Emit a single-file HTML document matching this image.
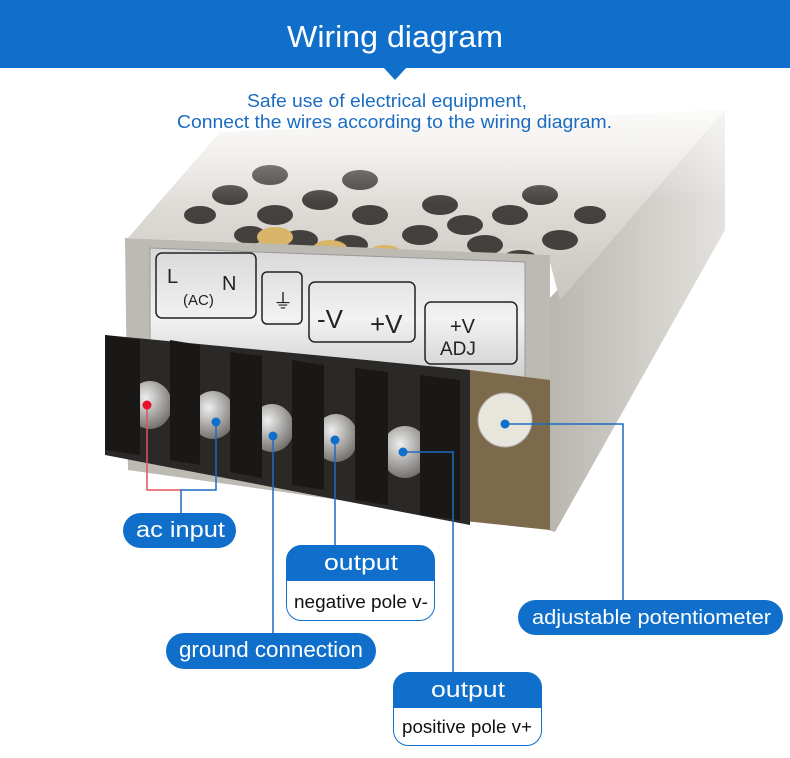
<!DOCTYPE html>
<html><head><meta charset="utf-8"><style>
html,body{margin:0;padding:0;background:#fff;}
body{width:790px;height:758px;overflow:hidden;position:relative;font-family:"Liberation Sans",sans-serif;}
</style></head><body>
<svg width="790" height="758" viewBox="0 0 790 758" xmlns="http://www.w3.org/2000/svg" style="position:absolute;left:0;top:0">
<defs>
<linearGradient id="fade" x1="0" y1="0" x2="0" y2="1">
<stop offset="0" stop-color="#fff" stop-opacity="1"/>
<stop offset="0.55" stop-color="#fff" stop-opacity="0"/>
</linearGradient>
<linearGradient id="top" x1="0" y1="0" x2="0" y2="1">
<stop offset="0" stop-color="#f4f2ee"/><stop offset="1" stop-color="#c9c6c0"/>
</linearGradient>
<linearGradient id="side" x1="0" y1="0" x2="1" y2="0">
<stop offset="0" stop-color="#b9b6b0"/><stop offset="1" stop-color="#e4e2de"/>
</linearGradient>
<linearGradient id="lab" x1="0" y1="0" x2="0" y2="1">
<stop offset="0" stop-color="#d8d8d8"/><stop offset="0.5" stop-color="#f2f2f2"/><stop offset="1" stop-color="#c8c8c8"/>
</linearGradient>
<radialGradient id="scr" cx="0.4" cy="0.35" r="0.7">
<stop offset="0" stop-color="#eee"/><stop offset="1" stop-color="#6d6a66"/>
</radialGradient>
</defs>
<polygon points="548,300 725,110 725,230 555,532 548,530" fill="url(#side)"/>
<polygon points="128,238 220,132 725,110 560,300 548,255" fill="url(#top)"/>
<g fill="#2a2724" opacity="0.85">
<ellipse cx="230" cy="195" rx="18" ry="10"/><ellipse cx="275" cy="215" rx="18" ry="10"/><ellipse cx="320" cy="200" rx="18" ry="10"/>
<ellipse cx="370" cy="215" rx="18" ry="10"/><ellipse cx="420" cy="235" rx="18" ry="10"/><ellipse cx="465" cy="225" rx="18" ry="10"/>
<ellipse cx="510" cy="215" rx="18" ry="10"/><ellipse cx="440" cy="205" rx="18" ry="10"/><ellipse cx="485" cy="245" rx="18" ry="10"/>
<ellipse cx="410" cy="262" rx="18" ry="10"/><ellipse cx="460" cy="272" rx="18" ry="10"/><ellipse cx="520" cy="260" rx="18" ry="10"/>
<ellipse cx="560" cy="240" rx="18" ry="10"/><ellipse cx="540" cy="195" rx="18" ry="10"/><ellipse cx="360" cy="180" rx="18" ry="10"/>
<ellipse cx="270" cy="175" rx="18" ry="10"/><ellipse cx="300" cy="240" rx="18" ry="10"/><ellipse cx="350" cy="245" rx="18" ry="10"/>
<ellipse cx="590" cy="215" rx="16" ry="9"/><ellipse cx="200" cy="215" rx="16" ry="9"/><ellipse cx="250" cy="235" rx="16" ry="9"/>
</g>
<g fill="#d9b56a"><ellipse cx="275" cy="237" rx="18" ry="10"/><ellipse cx="330" cy="250" rx="18" ry="10"/><ellipse cx="385" cy="255" rx="18" ry="10"/></g>
<polygon points="125,238 128,470 550,530 550,255" fill="#bdbab4"/>
<polygon points="150,248 525,262 525,390 150,370" fill="url(#lab)" stroke="#999" stroke-width="1"/>
<g fill="none" stroke="#222" stroke-width="1.5">
<rect x="156" y="253" width="100" height="65" rx="6"/><rect x="262" y="272" width="40" height="52" rx="5"/>
<rect x="309" y="282" width="106" height="60" rx="6"/><rect x="425" y="302" width="92" height="62" rx="6"/>
</g>
<g fill="#222" font-family="Liberation Sans,sans-serif">
<text x="167" y="283" font-size="20">L</text><text x="222" y="290" font-size="20">N</text>
<text x="183" y="305" font-size="15">(AC)</text><text x="273" y="308" font-size="20">⏚</text>
<text x="317" y="328" font-size="26">-V</text><text x="370" y="333" font-size="26">+V</text>
<text x="450" y="333" font-size="20">+V</text><text x="440" y="355" font-size="19">ADJ</text>
</g>
<polygon points="470,370 550,380 550,530 455,520" fill="#7d6a4c"/>
<circle cx="505" cy="420" r="27" fill="#e8e6dc" stroke="#aaa"/>
<polygon points="105,335 470,370 470,525 105,455" fill="#2b2927"/>
<g fill="url(#scr)">
<ellipse cx="150" cy="405" rx="22" ry="24"/><ellipse cx="213" cy="415" rx="22" ry="24"/>
<ellipse cx="272" cy="428" rx="22" ry="24"/><ellipse cx="336" cy="438" rx="22" ry="24"/><ellipse cx="405" cy="452" rx="24" ry="26"/>
</g>
<g fill="#1a1816">
<polygon points="105,335 140,340 140,455 105,450"/><polygon points="170,340 200,345 200,465 170,460"/>
<polygon points="230,352 262,356 262,478 230,472"/><polygon points="292,360 324,365 324,490 292,485"/>
<polygon points="355,368 388,372 388,505 355,500"/><polygon points="420,375 460,380 460,520 420,515"/>
</g>
<rect x="0" y="60" width="790" height="260" fill="url(#fade)"/>
<rect x="0" y="0" width="790" height="68" fill="#0f6fcb"/>
<polygon points="383,67 407,67 395,80" fill="#0f6fcb"/>
<text x="287" y="47" textLength="216" lengthAdjust="spacingAndGlyphs" fill="#fff" font-size="31" font-family="Liberation Sans,sans-serif">Wiring diagram</text>
<text x="247" y="107" textLength="280" lengthAdjust="spacingAndGlyphs" fill="#1a6cc2" font-size="18">Safe use of electrical equipment,</text>
<text x="177" y="128" textLength="435" lengthAdjust="spacingAndGlyphs" fill="#1a6cc2" font-size="18">Connect the wires according to the wiring diagram.</text>
<g fill="none" stroke-width="1.5">
<polyline points="147,405 147,490 181,490" stroke="#e4505e"/>
<polyline points="216,422 216,490 181,490 181,515" stroke="#1a6cc2"/>
<line x1="273" y1="436" x2="273" y2="634" stroke="#1a6cc2"/>
<line x1="335" y1="440" x2="335" y2="546" stroke="#1a6cc2"/>
<polyline points="403,452 453,452 453,673" stroke="#1a6cc2"/>
<polyline points="505,424 623,424 623,601" stroke="#1a6cc2"/>
</g>
<circle cx="147" cy="405" r="4.5" fill="#e8102a"/>
<g fill="#0f6fcb"><circle cx="216" cy="422" r="4.5"/><circle cx="273" cy="436" r="4.5"/><circle cx="335" cy="440" r="4.5"/><circle cx="403" cy="452" r="4.5"/><circle cx="505" cy="424" r="4.5"/></g>
<g font-family="Liberation Sans,sans-serif">
<rect x="123" y="513" width="113" height="35" rx="17.5" fill="#0f6fcb"/>
<text x="136" y="537" textLength="89" lengthAdjust="spacingAndGlyphs" fill="#fff" font-size="22">ac input</text>
<rect x="166" y="633" width="210" height="36" rx="18" fill="#0f6fcb"/>
<text x="179" y="657" textLength="184" lengthAdjust="spacingAndGlyphs" fill="#fff" font-size="22">ground connection</text>
<rect x="518" y="600" width="265" height="35" rx="17.5" fill="#0f6fcb"/>
<text x="532" y="624" textLength="239" lengthAdjust="spacingAndGlyphs" fill="#fff" font-size="20">adjustable potentiometer</text>
<rect x="286.5" y="545.5" width="148" height="75" rx="15" fill="#fff" stroke="#0f6fcb"/>
<path d="M286.5 581 V560.5 A15 15 0 0 1 301.5 545.5 H419.5 A15 15 0 0 1 434.5 560.5 V581 Z" fill="#0f6fcb"/>
<text x="324" y="570" textLength="74" lengthAdjust="spacingAndGlyphs" fill="#fff" font-size="22">output</text>
<text x="294" y="608" textLength="134" lengthAdjust="spacingAndGlyphs" fill="#111" font-size="18">negative pole v-</text>
<rect x="393.5" y="672.5" width="148" height="73" rx="15" fill="#fff" stroke="#0f6fcb"/>
<path d="M393.5 708 V687.5 A15 15 0 0 1 408.5 672.5 H526.5 A15 15 0 0 1 541.5 687.5 V708 Z" fill="#0f6fcb"/>
<text x="431" y="697" textLength="74" lengthAdjust="spacingAndGlyphs" fill="#fff" font-size="22">output</text>
<text x="402" y="733" textLength="130" lengthAdjust="spacingAndGlyphs" fill="#111" font-size="18">positive pole v+</text>
</g>
</svg>
</body></html>
